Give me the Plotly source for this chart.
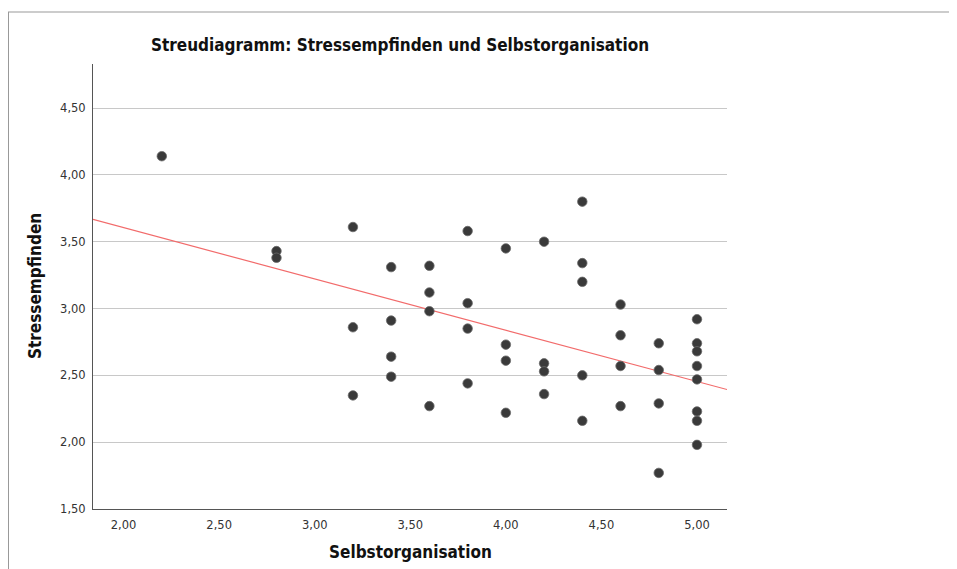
import numpy as np
import plotly.graph_objects as go

selbstorganisation = [2.2,
                      2.8, 2.8,
                      3.2, 3.2, 3.2,
                      3.4, 3.4, 3.4, 3.4,
                      3.6, 3.6, 3.6, 3.6,
                      3.8, 3.8, 3.8, 3.8,
                      4.0, 4.0, 4.0, 4.0,
                      4.2, 4.2, 4.2, 4.2,
                      4.4, 4.4, 4.4, 4.4, 4.4,
                      4.6, 4.6, 4.6, 4.6,
                      4.8, 4.8, 4.8, 4.8,
                      5.0, 5.0, 5.0, 5.0, 5.0, 5.0, 5.0, 5.0]
stressempfinden = [4.14,
                   3.43, 3.38,
                   3.61, 2.86, 2.35,
                   3.31, 2.91, 2.64, 2.49,
                   3.32, 3.12, 2.98, 2.27,
                   3.58, 3.04, 2.85, 2.44,
                   3.45, 2.73, 2.61, 2.22,
                   3.50, 2.59, 2.53, 2.36,
                   3.80, 3.34, 3.20, 2.50, 2.16,
                   3.03, 2.80, 2.57, 2.27,
                   2.74, 2.54, 2.29, 1.77,
                   2.92, 2.74, 2.68, 2.57, 2.47, 2.23, 2.16, 1.98]

x_ticks = [2.0, 2.5, 3.0, 3.5, 4.0, 4.5, 5.0]
y_ticks = [1.5, 2.0, 2.5, 3.0, 3.5, 4.0, 4.5]
x_range = [1.84, 5.157]
y_range = [1.5, 4.83]

slope, intercept = np.polyfit(selbstorganisation, stressempfinden, 1)
fit_x = np.array(x_range)
fit_y = intercept + slope * fit_x

# page body has an 8px margin, so figure coords = screen coords - 8
L, T, PW, PH = 85, 56, 634, 445
W, H = 957, 569

def px(x):  # figure x pixel -> paper
    return (x - L) / PW

def py(y):  # figure y pixel -> paper
    return (T + PH - y) / PH

fig = go.Figure()
fig.add_trace(go.Scatter(x=fit_x, y=fit_y, mode="lines",
                         line=dict(color="#f26b6b", width=1.2),
                         hoverinfo="skip", showlegend=False))
fig.add_trace(go.Scatter(x=selbstorganisation, y=stressempfinden, mode="markers",
                         marker=dict(size=9.5, color="#3a3a3a",
                                     line=dict(color="#6a6a6a", width=0.8)),
                         showlegend=False))

cond = "DejaVu Sans Condensed, Liberation Sans Narrow, sans-serif"
tickf = "DejaVu Sans, sans-serif"
fig.update_layout(
    width=W, height=H,
    margin=dict(l=L, r=W - L - PW, t=T, b=H - T - PH),
    paper_bgcolor="white", plot_bgcolor="white",
    separators=",.",
    font=dict(family=tickf, color="#222222", size=11),
    title=dict(text="<b>Streudiagramm: Stressempfinden und Selbstorganisation</b>",
               x=392 / W, xanchor="center", y=1 - 37 / H, yanchor="middle",
               font=dict(size=17, family=cond, color="#111111")),
    xaxis=dict(range=x_range, tickvals=x_ticks, tickformat=".2f",
               showgrid=False, zeroline=False, showline=True,
               linecolor="#555555", linewidth=1, ticks="", ticklen=0,
               ticklabelstandoff=5,
               tickfont=dict(size=11.5, color="#333333", family=tickf)),
    yaxis=dict(range=y_range, tickvals=y_ticks, tickformat=".2f",
               showgrid=True, gridcolor="#c8c8c8", gridwidth=1,
               zeroline=False, showline=True,
               linecolor="#555555", linewidth=1, ticks="", ticklen=0,
               ticklabelstandoff=4,
               tickfont=dict(size=11.5, color="#333333", family=tickf)),
    annotations=[
        dict(text="<b>Selbstorganisation</b>", xref="paper", yref="paper",
             x=px(402), y=py(544), xanchor="center", yanchor="middle",
             showarrow=False, font=dict(size=17, family=cond, color="#111111")),
        dict(text="<b>Stressempfinden</b>", xref="paper", yref="paper",
             x=px(27), y=py(278), xanchor="center", yanchor="middle",
             textangle=-90, showarrow=False,
             font=dict(size=17, family=cond, color="#111111")),
    ],
    shapes=[
        dict(type="line", xref="paper", yref="paper",
             x0=px(0), x1=px(W), y0=py(4), y1=py(4),
             line=dict(color="#999999", width=1)),
        dict(type="line", xref="paper", yref="paper",
             x0=px(0.5), x1=px(0.5), y0=py(4), y1=py(H + 10),
             line=dict(color="#999999", width=1)),
    ],
)

fig.write_html("out.html")
